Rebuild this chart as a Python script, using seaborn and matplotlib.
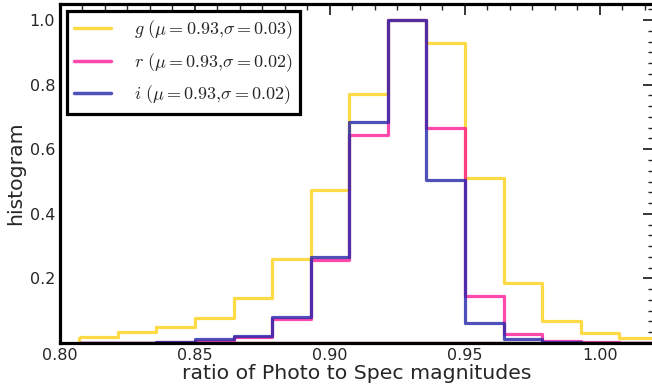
import numpy as np
import pandas as pd
import matplotlib
matplotlib.use("Agg")
import matplotlib.pyplot as plt
from matplotlib.lines import Line2D
from matplotlib.ticker import AutoMinorLocator
import seaborn as sns

# bin edges (width 0.1/7) and normalised histogram heights
edges = list(0.8071428 + np.arange(16) * (0.1 / 7))
centers = [(a + b) / 2 for a, b in zip(edges[:-1], edges[1:])]

g_vals = [0.02, 0.033, 0.05, 0.077, 0.138, 0.26, 0.474, 0.77, 1.0, 0.928,
          0.51, 0.187, 0.069, 0.032, 0.016]
r_vals = [0.0, 0.0, 0.002, 0.007, 0.018, 0.073, 0.257, 0.644, 1.0, 0.667,
          0.146, 0.027, 0.006, 0.002, 0.0]
i_vals = [0.0, 0.0, 0.003, 0.011, 0.023, 0.08, 0.267, 0.683, 1.0, 0.505,
          0.063, 0.013, 0.004, 0.001, 0.0]

labels = [r"$g\ (\mu=0.93{,}\sigma=0.03)$",
          r"$r\ (\mu=0.93{,}\sigma=0.02)$",
          r"$i\ (\mu=0.93{,}\sigma=0.02)$"]
colors = [(1.0, 0.8, 0.0, 0.72), (1.0, 0.08, 0.58, 0.78), (0.16, 0.16, 0.67, 0.82)]

sns.set_style("white")
plt.rcParams["mathtext.fontset"] = "cm"
plt.rcParams["font.family"] = ["DejaVu Sans"]

fig, ax = plt.subplots(figsize=(6.52, 3.88), dpi=100)
fig.subplots_adjust(left=0.092, right=1.003, bottom=0.116, top=0.99)

for vals, c in zip([g_vals, r_vals, i_vals], colors):
    df = pd.DataFrame({"ratio": centers, "h": vals})
    sns.histplot(data=df, x="ratio", weights="h", bins=edges, element="step", fill=True,
                 color=c[:3], facecolor="none", edgecolor=c, linewidth=2.3, ax=ax)

ax.set_xlim(0.80, 1.02)
ax.set_ylim(0, 1.05)
ax.set_xticks([0.80, 0.85, 0.90, 0.95, 1.00])
ax.set_yticks([0.2, 0.4, 0.6, 0.8, 1.0])
ax.xaxis.set_minor_locator(AutoMinorLocator(6))
ax.yaxis.set_minor_locator(AutoMinorLocator(6))
ax.tick_params(which="both", direction="in", top=True, right=True, labelsize=11.5)
ax.tick_params(which="major", length=8, width=1.3)
ax.tick_params(which="minor", length=4, width=1.0)
for s in ax.spines.values():
    s.set_linewidth(2.3)
    s.set_color("black")

ax.set_xlabel("ratio of Photo to Spec magnitudes", fontsize=14.7, labelpad=1)
ax.set_ylabel("histogram", fontsize=14.7, labelpad=3)

handles = [Line2D([], [], color=c, lw=2.5) for c in colors]
leg = ax.legend(handles, labels, loc="upper left", fontsize=13, fancybox=False,
                framealpha=1, edgecolor="black", borderaxespad=0.4,
                handletextpad=1.3, labelspacing=0.55)
leg.get_frame().set_linewidth(2.3)

fig.savefig("out.png", dpi=100)
